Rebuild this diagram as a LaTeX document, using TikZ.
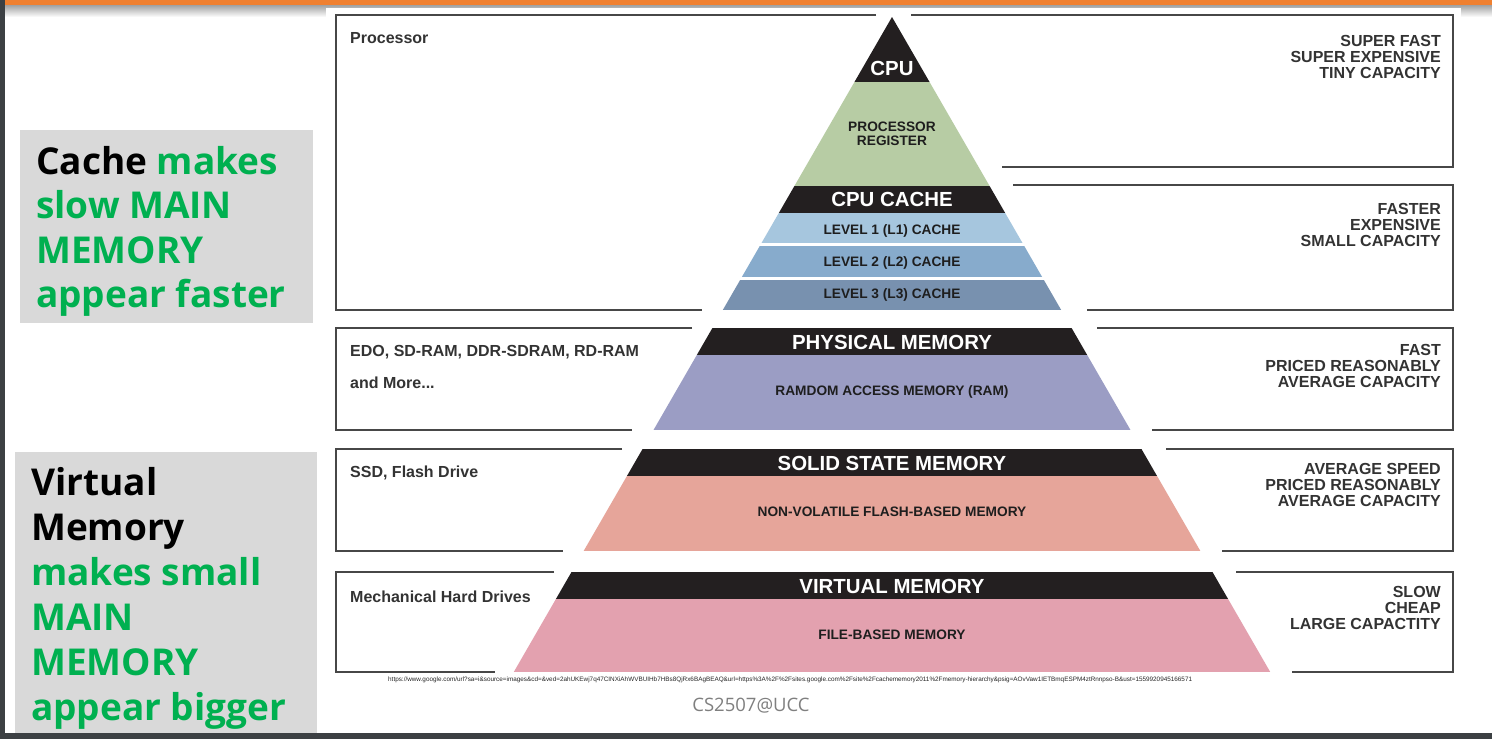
\documentclass[tikz,border=0pt]{standalone}
\usepackage{fontspec}
\usepackage{graphicx}
\setmainfont{Liberation Sans}
\newfontfamily\osans{Open Sans}
\definecolor{slideorange}{HTML}{F08030}
\definecolor{slidedark}{HTML}{3C4043}
\definecolor{notegray}{HTML}{D9D9D9}
\definecolor{notegreen}{HTML}{00B050}
\definecolor{boxgray}{HTML}{474747}
\definecolor{lblgray}{HTML}{333333}
\definecolor{bandblack}{HTML}{231F20}
\definecolor{regcol}{HTML}{B7CCA4}
\definecolor{lonecol}{HTML}{A6C6DE}
\definecolor{ltwocol}{HTML}{87ABCC}
\definecolor{lthreecol}{HTML}{7891AF}
\definecolor{ramcol}{HTML}{9B9DC4}
\definecolor{flashcol}{HTML}{E6A59A}
\definecolor{filecol}{HTML}{E3A1AF}
\definecolor{tiertextcol}{HTML}{1E1E1E}
\definecolor{footgray}{HTML}{7F7F7F}
\begin{document}
\begin{tikzpicture}[x=1pt,y=-1pt,
  boxline/.style={draw=boxgray, line width=1.7pt},
  devlbl/.style={font=\fontsize{16}{16}\selectfont\bfseries, text=lblgray, anchor=base west, inner sep=0pt},
  costlbl/.style={font=\fontsize{16}{16}\selectfont\bfseries, text=lblgray, align=right, anchor=north east, inner sep=0pt},
  tiertitle/.style={font=\fontsize{20.4}{21}\selectfont\bfseries, text=white, inner sep=0pt, text height=14.6pt, text depth=0pt},
  tiertext/.style={font=\fontsize{13.7}{14}\selectfont\bfseries, text=tiertextcol, inner sep=0pt, align=center, text height=9.8pt, text depth=0pt},
  tierpair/.style={font=\fontsize{13.7}{14}\selectfont\bfseries, text=tiertextcol, inner sep=0pt, align=center},
  noteline/.style={font=\osans\bfseries\fontsize{37}{44.5}\selectfont, anchor=base west, inner sep=0pt, text=notegreen},
]
\useasboundingbox (0,0) rectangle (1492,739);
\fill[white] (0,0) rectangle (1492,739);

% slide header: orange rule and its soft shadow
\shade[top color=black!40, bottom color=white] (0,4) rectangle (1492,17);
\fill[slideorange] (0,0) rectangle (1492,4.5);
\fill[white] (326,8) rectangle (1461,40);

% grey note panels
\fill[notegray] (20,130) rectangle (313,323);
\fill[notegray] (15,452) rectangle (317,739);

\node[noteline] (n1) at (36,174) {\textcolor{black}{Cache} makes};
\node[noteline] (n2) at (36,218.5) {slow MAIN};
\node[noteline] (n3) at (36,263) {MEMORY};
\node[noteline] (n4) at (36,307.5) {appear faster};

\node[noteline, text=black] (v1) at (31,495) {Virtual};
\node[noteline, text=black] (v2) at (31,540) {Memory};
\node[noteline] (v3) at (31,585) {makes small};
\node[noteline] (v4) at (31,630) {MAIN};
\node[noteline] (v5) at (31,675) {MEMORY};
\node[noteline] (v6) at (31,720) {appear bigger};

% open frames left and right of the pyramid
\draw[boxline] (876,15) -- (336,15) -- (336,310) -- (702,310);
\draw[boxline] (911,15) -- (1453,15) -- (1453,167) -- (1002,167);
\draw[boxline] (1013,185) -- (1453,185) -- (1453,310) -- (1087,310);
\draw[boxline] (692,328) -- (336,328) -- (336,430) -- (632,430);
\draw[boxline] (1097,328) -- (1453,328) -- (1453,430) -- (1152,430);
\draw[boxline] (622,449) -- (336,449) -- (336,551) -- (563,551);
\draw[boxline] (1166,449) -- (1453,449) -- (1453,551) -- (1222,551);
\draw[boxline] (554,572) -- (336,572) -- (336,672) -- (495,672);
\draw[boxline] (1236,572) -- (1453,572) -- (1453,672) -- (1292,672);

% pyramid bands, cut out of one big triangle
\begin{scope}
  \clip (892,17) -- (497.6,700) -- (1286.4,700) -- cycle;
  \fill[bandblack] (400,10) rectangle (1400,82);
  \fill[regcol] (400,82) rectangle (1400,186);
  \fill[bandblack] (400,186) rectangle (1400,213);
  \fill[lonecol] (400,213) rectangle (1400,243);
  \fill[ltwocol] (400,245.5) rectangle (1400,277);
  \fill[lthreecol] (400,279.5) rectangle (1400,310);
  \fill[bandblack] (400,328) rectangle (1400,355);
  \fill[ramcol] (400,355) rectangle (1400,430);
  \fill[bandblack] (400,449) rectangle (1400,476);
  \fill[flashcol] (400,476) rectangle (1400,551);
  \fill[bandblack] (400,572) rectangle (1400,599);
  \fill[filecol] (400,599) rectangle (1400,672);
\end{scope}

\node[tiertitle] (cpu) at (892,68) {CPU};
\node[tierpair] (reg) at (892,134) {PROCESSOR\\REGISTER};
\node[tiertitle] (cache) at (892,199.5) {CPU CACHE};
\node[tiertext] (l1) at (892,230) {LEVEL 1 (L1) CACHE};
\node[tiertext] (l2) at (892,262) {LEVEL 2 (L2) CACHE};
\node[tiertext] (l3) at (892,294) {LEVEL 3 (L3) CACHE};
\node[tiertitle] (phys) at (892,342) {PHYSICAL MEMORY};
\node[tiertext] (ram) at (892,391) {RAMDOM ACCESS MEMORY (RAM)};
\node[tiertitle] (ssd) at (892,463) {SOLID STATE MEMORY};
\node[tiertext] (flash) at (892,512) {NON-VOLATILE FLASH-BASED MEMORY};
\node[tiertitle] (virt) at (892,586) {VIRTUAL MEMORY};
\node[tiertext] (file) at (892,635) {FILE-BASED MEMORY};

% device labels
\node[devlbl] (proc) at (350,43.5) {Processor};
\node[devlbl] (edo) at (350,356) {EDO, SD-RAM, DDR-SDRAM, RD-RAM};
\node[devlbl] (more) at (350,388) {and More...};
\node[devlbl] (flashdev) at (350,477.5) {SSD, Flash Drive};
\node[devlbl] (hdd) at (350,602) {Mechanical Hard Drives};

% cost / speed labels
\node[costlbl] (c1) at (1441,35.2) {SUPER FAST\\SUPER EXPENSIVE\\TINY CAPACITY};
\node[costlbl] (c2) at (1441,203.2) {FASTER\\EXPENSIVE\\SMALL CAPACITY};
\node[costlbl] (c3) at (1441,344.2) {FAST\\PRICED REASONABLY\\AVERAGE CAPACITY};
\node[costlbl] (c4) at (1441,463.2) {AVERAGE SPEED\\PRICED REASONABLY\\AVERAGE CAPACITY};
\node[costlbl] (c5) at (1441,586.2) {SLOW\\CHEAP\\LARGE CAPACTITY};

% source line and footer
\node[anchor=base west, inner sep=0pt, text=black!85] (src) at (388,681.5) {\resizebox{804pt}{!}{\fontsize{7}{7}\selectfont https://www.google.com/url?sa=i\&source=images\&cd=\&ved=2ahUKEwj7q47CINXiAhWVBUIHb7HBs8QjRx6BAgBEAQ\&url=https\%3A\%2F\%2Fsites.google.com\%2Fsite\%2Fcachememory2011\%2Fmemory-hierarchy\&psig=AOvVaw1IETBmqESPM4ztRnnpso-B\&ust=1559920945166571}};
\node[anchor=base, inner sep=0pt, text=footgray, font=\osans\fontsize{18.5}{20}\selectfont] (foot) at (751,711.5) {CS2507@UCC};

% window edges
\fill[slidedark] (0,0) rectangle (5,739);
\fill[slidedark] (0,733) rectangle (1492,739);
\end{tikzpicture}
\end{document}
